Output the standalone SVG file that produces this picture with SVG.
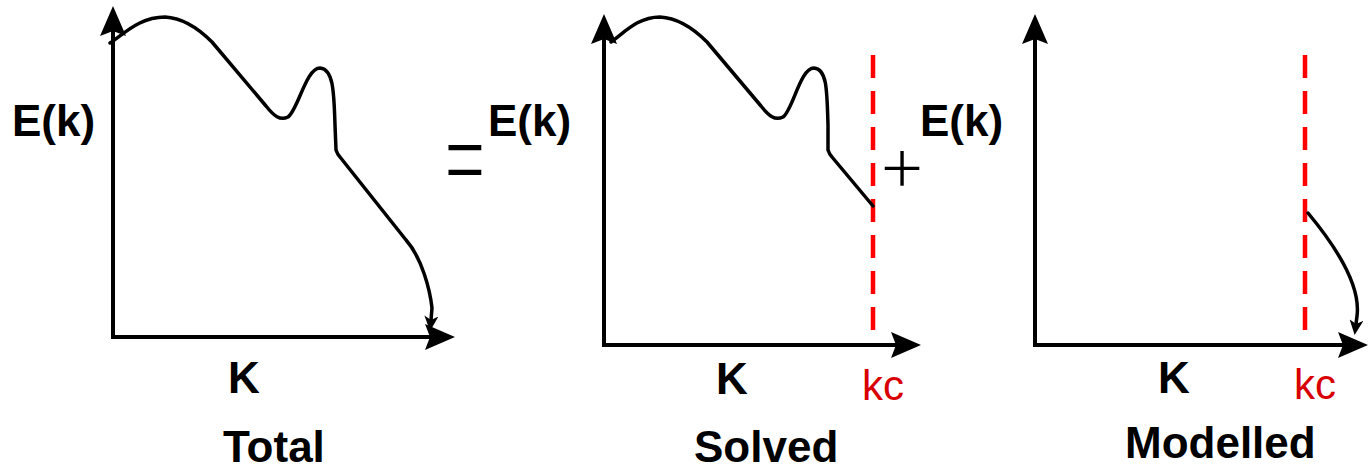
<svg xmlns="http://www.w3.org/2000/svg" width="1369" height="471" viewBox="0 0 1369 471">
<style>
.lbl{font-family:"Liberation Sans",Arial,sans-serif;font-weight:bold;font-size:44px;fill:#000}
.kc{font-family:"Liberation Sans",Arial,sans-serif;font-size:42px;fill:#d80000}
.op{font-family:Inter,"Liberation Sans",sans-serif;font-weight:250;fill:#000}
.axis{fill:none;stroke:#000;stroke-width:4}
.curve{fill:none;stroke:#000;stroke-width:3.5;stroke-linejoin:round;stroke-linecap:round}
.cut{fill:none;stroke:#ff0000;stroke-width:4.5;stroke-dasharray:23 13}
</style>
<defs>
<marker id="ah" markerUnits="userSpaceOnUse" markerWidth="32" markerHeight="28" viewBox="0 0 32 28" refX="6" refY="14" orient="auto">
<path d="M31,14 L1,1 L6,14 L1,27 Z" fill="#000"/>
</marker>
<marker id="sh" markerUnits="userSpaceOnUse" markerWidth="16" markerHeight="14" viewBox="0 0 16 14" refX="4" refY="7" orient="auto">
<path d="M15,7 L0,0 L4,7 L0,14 Z" fill="#000"/>
</marker>
</defs>

<g id="panel-total">
<text class="lbl" x="12" y="136">E(k)</text>
<text class="lbl" x="228" y="393">K</text>
<text class="lbl" x="223" y="462">Total</text>
</g>

<g id="op-equals">
<text class="op" x="465" y="186" font-size="88" text-anchor="middle" transform="translate(465,163) scale(1,1.4) translate(-465,-163)">=</text>
</g>

<g id="panel-solved">
<text class="lbl" x="488" y="136">E(k)</text>
<text class="lbl" x="716" y="394">K</text>
<text class="kc" x="862" y="400">kc</text>
<text class="lbl" x="694" y="462">Solved</text>
</g>

<g id="op-plus">
<text class="op" x="902" y="191" font-size="80" text-anchor="middle">+</text>
</g>

<g id="panel-modelled">
<text class="lbl" x="920" y="136">E(k)</text>
<text class="lbl" x="1158" y="393">K</text>
<text class="kc" x="1294" y="399">kc</text>
<text class="lbl" x="1125" y="458">Modelled</text>
</g>

<g id="connectors">
<path class="axis" d="M113,338 L113,31" marker-end="url(#ah)"/>
<path class="axis" d="M111,337 L430,337" marker-end="url(#ah)"/>
<path class="curve" d="M110,43 C125,33 140,17 165,17 C185,18 200,30 212,42 L266,106 C274,116 280,121 288,117 C298,110 306,68 320,68 C333,69 334,90 335,125 L336,150 C337,153 338,155 340,157 L406,240 C422,258 430,290 432,308 L431,320" marker-end="url(#sh)"/>

<path class="axis" d="M604,346 L604,39" marker-end="url(#ah)"/>
<path class="axis" d="M602,345 L896,345" marker-end="url(#ah)"/>
<line class="cut" x1="873" y1="55" x2="873" y2="334"/>
<path class="curve" d="M611,42 C625,32 638,17 660,17 C680,18 695,30 707,42 L761,106 C769,116 775,121 783,117 C793,110 800,68 814,68 C827,69 827,90 828,125 L828,150 C829,153 830,155 832,157 L873,206"/>

<path class="axis" d="M1035,346 L1035,39" marker-end="url(#ah)"/>
<path class="axis" d="M1033,345 L1343,345" marker-end="url(#ah)"/>
<line class="cut" x1="1305" y1="55" x2="1305" y2="334"/>
<path class="curve" d="M1308,213 Q1362,278 1357,316 L1356,324" marker-end="url(#sh)"/>
</g>
</svg>
